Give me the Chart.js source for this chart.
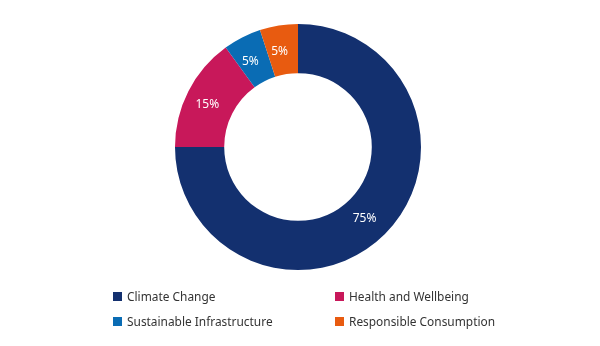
<!DOCTYPE html>
<html>
<head>
<meta charset="utf-8">
<script src="https://cdn.jsdelivr.net/npm/chart.js@4"></script>
<style>
  body { margin: 0; background: #fff; font-family: "Noto Sans", sans-serif; }
  #wrap { position: relative; width: 600px; height: 346px; }
  #legend { position: absolute; left: 113px; top: 288px; width: 420px; font-size: 11.9px; color: #333; }
  .item { position: absolute; display: flex; align-items: center; white-space: nowrap; }
  .box { width: 9px; height: 9px; margin-right: 5px; }
</style>
</head>
<body>
<div id="wrap">
  <canvas id="chart" width="600" height="346"></canvas>
  <div id="legend"></div>
</div>
<script>
const categories = ['Climate Change', 'Health and Wellbeing', 'Sustainable Infrastructure', 'Responsible Consumption'];
const shares = [75, 15, 5, 5];
const colours = ['#13306f', '#c8185a', '#0a6cb4', '#e85b10'];

// white percentage text in the middle of each slice
const sliceLabels = {
    id: 'sliceLabels',
    afterDatasetsDraw(chart) {
        const ctx = chart.ctx;
        const meta = chart.getDatasetMeta(0);
        ctx.save();
        ctx.fillStyle = '#fff';
        ctx.font = '12px "Noto Sans"';
        ctx.textAlign = 'center';
        ctx.textBaseline = 'middle';
        meta.data.forEach((arc, i) => {
            const pos = arc.tooltipPosition();
            ctx.fillText(shares[i] + '%', pos.x - 3, pos.y + 2);
        });
        ctx.restore();
    }
};

new Chart(document.getElementById('chart'), {
    type: 'doughnut',
    data: {
        labels: categories,
        datasets: [{
            data: shares,
            backgroundColor: colours,
            borderWidth: 0
        }]
    },
    options: {
        responsive: false,
        animation: false,
        cutout: '60%',
        layout: { padding: { left: 175, right: 179, top: 24, bottom: 76 } },
        plugins: {
            legend: { display: false },
            tooltip: { enabled: false }
        }
    },
    plugins: [sliceLabels]
});

// two-column legend under the ring
const legend = document.getElementById('legend');
categories.forEach((name, i) => {
    const item = document.createElement('div');
    item.className = 'item';
    item.style.left = (i % 2 === 0 ? 0 : 222) + 'px';
    item.style.top = (Math.floor(i / 2) * 25) + 'px';
    item.innerHTML = '<span class="box" style="background:' + colours[i] + '"></span>' + name;
    legend.appendChild(item);
});
</script>
</body>
</html>
